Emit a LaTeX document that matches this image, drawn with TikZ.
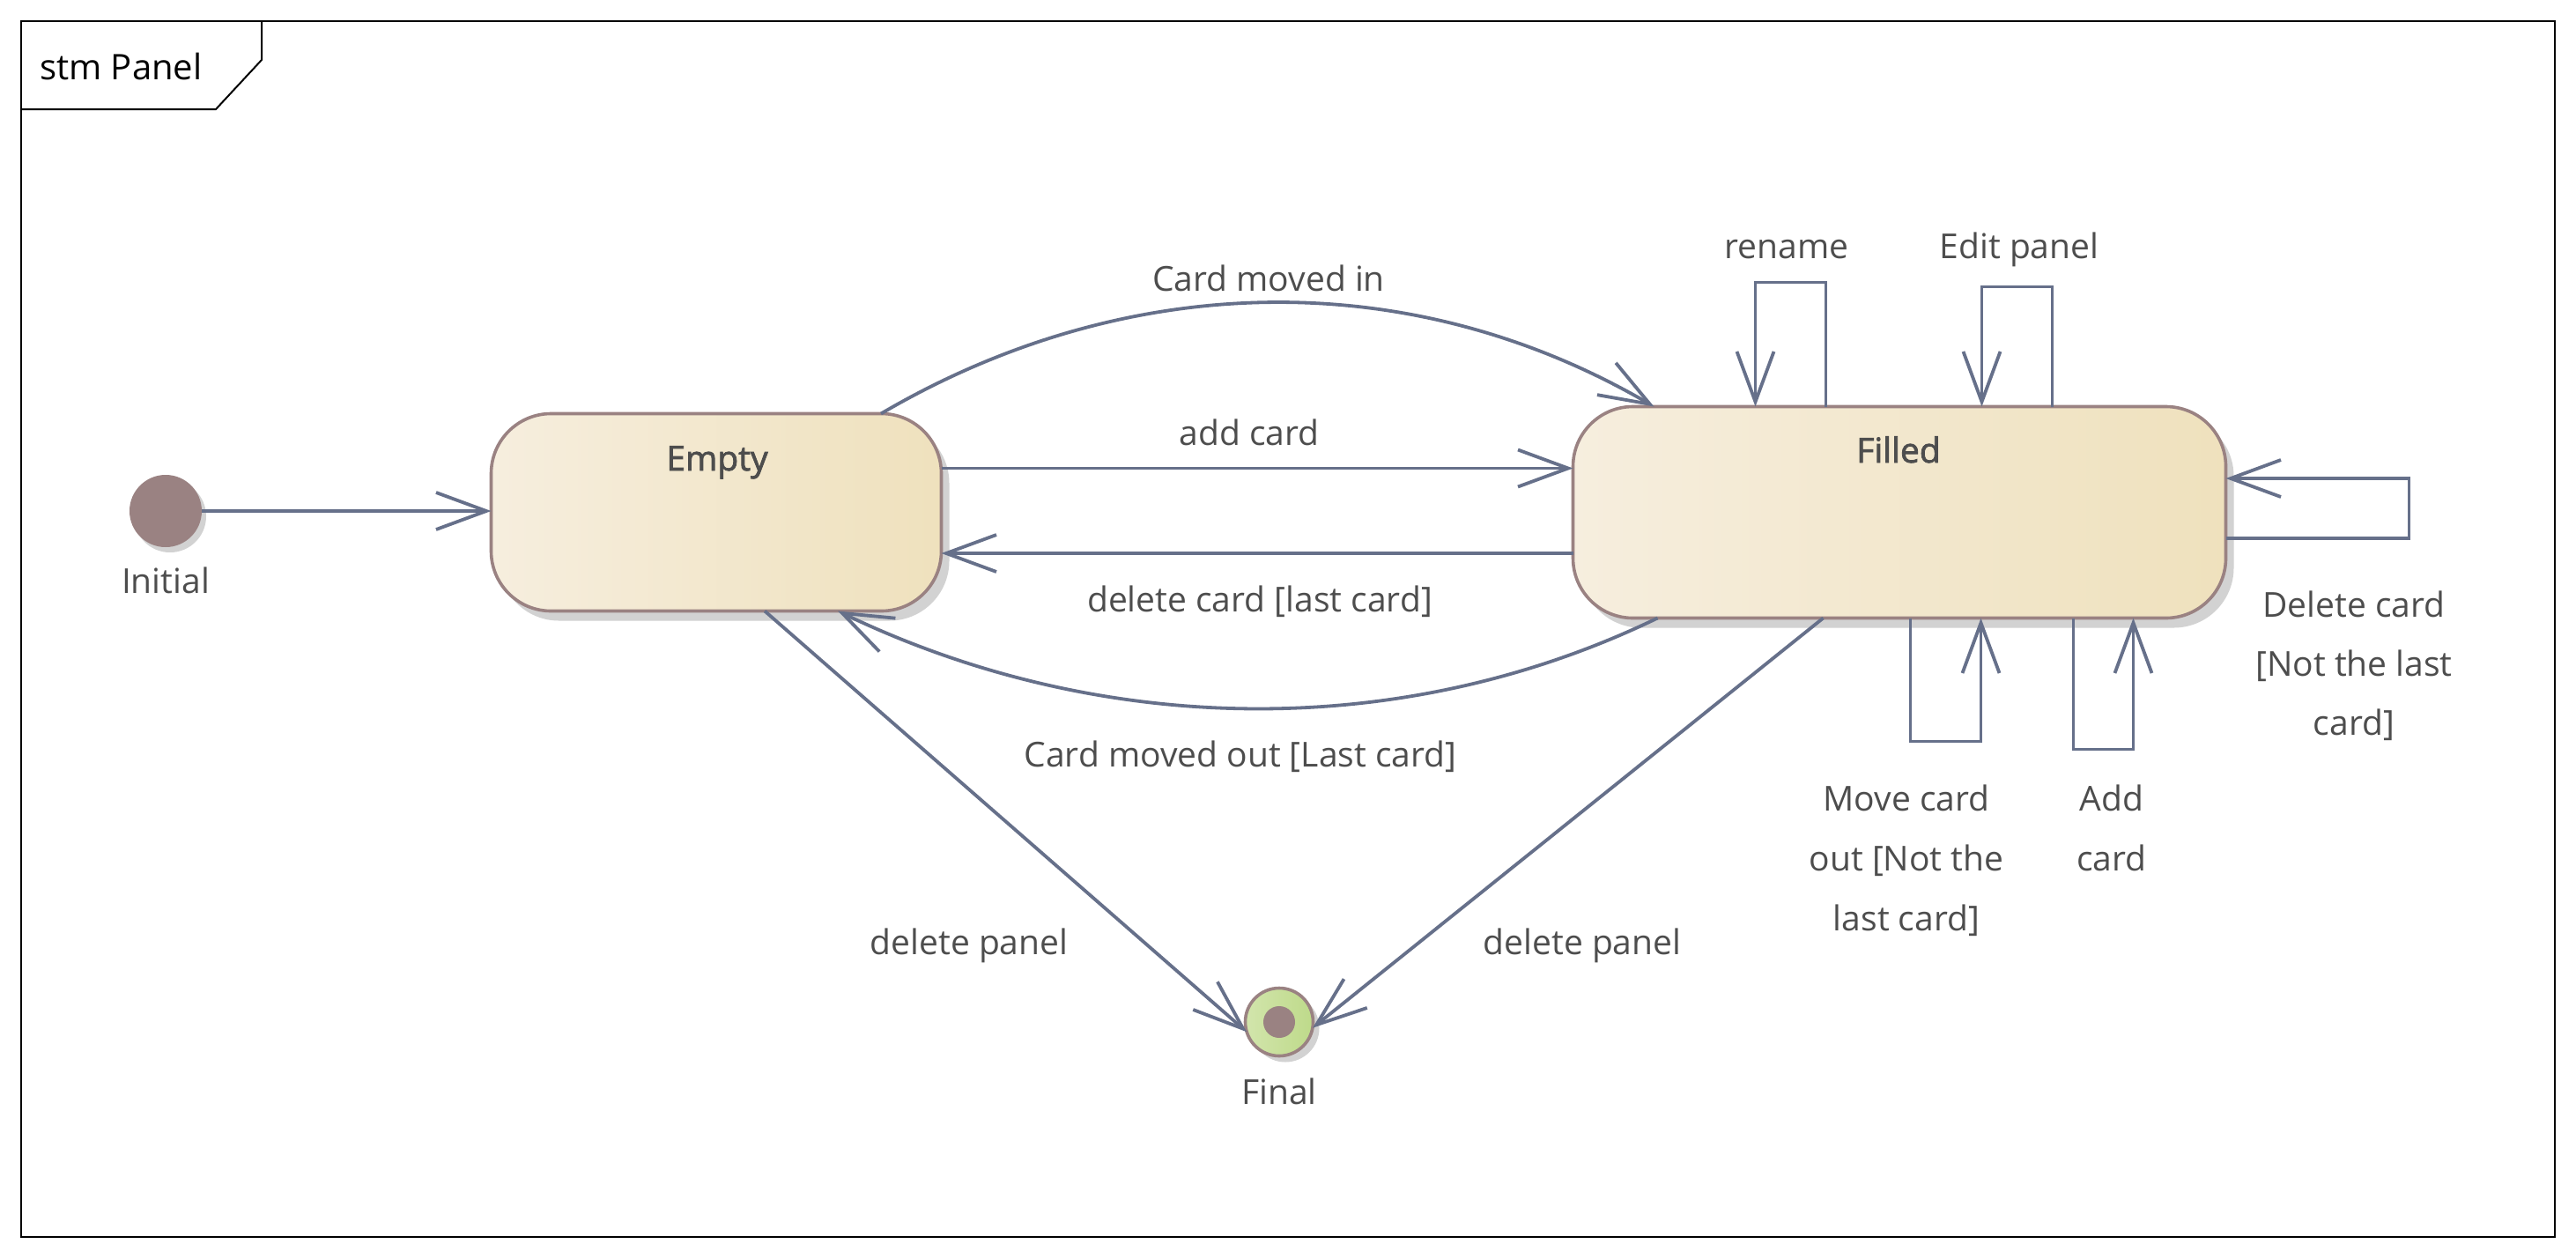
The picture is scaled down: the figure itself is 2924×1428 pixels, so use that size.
\documentclass[tikz,border=0pt]{standalone}
\usepackage{fontspec}
\setmainfont{Open Sans}
\newfontfamily\semibfont{Open Sans}[FakeBold=2]
\usetikzlibrary{arrows.meta,calc,shadows}
\definecolor{edgec}{RGB}{102,112,138}
\definecolor{bordc}{RGB}{154,130,130}
\definecolor{fillL}{RGB}{246,238,222}
\definecolor{fillR}{RGB}{239,225,189}
\definecolor{shad}{RGB}{210,210,210}
\definecolor{txt}{RGB}{77,77,77}
\definecolor{grL}{RGB}{210,229,172}
\definecolor{grR}{RGB}{190,218,138}
\begin{document}
\begin{tikzpicture}[x=1pt,y=-1pt,
  statebox/.style={rectangle, draw=bordc, line width=3.6pt, left color=fillL, right color=fillR,
    rounded corners=68pt, inner sep=0pt, outer sep=0pt,
    drop shadow={shadow xshift=9pt, shadow yshift=-11pt, fill=shad, opacity=1}},
  lbl/.style={font=\fontsize{39}{47}\selectfont, text=txt, inner sep=0pt, anchor=base},
  edge/.style={draw=edgec, line width=3.8pt, -{Straight Barb[length=57pt,width=42pt]}}
]
\useasboundingbox[fill=white] (0,0) rectangle (2924,1428);
% frame
\draw[line width=2.4pt] (24,24) rectangle (2900,1404);
\draw[line width=2pt] (24,124) -- (245,124) -- (297,68) -- (297,24);
\node[font=\fontsize{40}{48}\selectfont, inner sep=0pt, anchor=base west] (title) at (45,90) {stm Panel};

% states
\node[statebox, minimum width=511pt, minimum height=224pt] (Empty) at (813,581.5) {};
\node[statebox, minimum width=741pt, minimum height=240pt] (Filled) at (2156,581.5) {};
\node[lbl, font=\fontsize{39}{47}\semibfont] (EmptyL) at (814,534) {Empty};
\node[lbl, font=\fontsize{39}{47}\semibfont] (FilledL) at (2155,525) {Filled};

% initial / final
\node[circle, fill=bordc, minimum size=82pt, inner sep=0pt, outer sep=0pt,
  drop shadow={shadow xshift=5pt, shadow yshift=-6pt, fill=shad, opacity=1}] (Init) at (188,580) {};
\node[lbl] (InitL) at (188,673) {Initial};
\node[circle, draw=bordc, line width=3.6pt, left color=grL, right color=grR, minimum size=77pt,
  inner sep=0pt, outer sep=0pt,
  drop shadow={shadow xshift=7pt, shadow yshift=-7pt, fill=shad, opacity=1}] (Final) at (1452,1160) {};
\node[circle, fill=bordc, minimum size=36pt, inner sep=0pt] (FinalDot) at (Final) {};
\node[lbl] (FinalL) at (1452,1253) {Final};

% transitions
\draw[edge] (Init.east) -- (Init -| Empty.west);

\draw[edge] ($(Empty.north)+(187,0)$) .. controls (1277,307) and (1599,299) .. ($(Filled.north west)+(92,0)$);
\node[lbl] (lCardIn) at (1440,330) {Card moved in};

\draw[edge] ($(Empty.east)+(0,-50)$) -- ($(Filled.west)+(0,-50)$);
\node[lbl] (lAdd) at (1418,505) {add card};

\draw[edge] ($(Filled.west)+(0,46.5)$) -- ($(Empty.east)+(0,46.5)$);
\node[lbl] (lDel) at (1430,694) {delete card [last card]};

\draw[edge] ($(Filled.south west)+(96,0)$) .. controls (1587,844) and (1245,835) .. ($(Empty.south)+(138,0)$);
\node[lbl] (lCardOut) at (1408,870) {Card moved out [Last card]};

\draw[edge] ($(Empty.south)+(55,0)$) -- (Final.197);
\node[lbl] (lDelP1) at (1100,1083) {delete panel};
\draw[edge] ($(Filled.south west)+(284,0)$) -- (Final.-10);
\node[lbl] (lDelP2) at (1796,1083) {delete panel};

% self loops
\draw[edge] ($(Filled.north west)+(287,0)$) -- ++(0,-141) -| ($(Filled.north west)+(207,0)$);
\node[lbl] (lRename) at (2028,293) {rename};
\draw[edge] ($(Filled.north west)+(544,0)$) -- ++(0,-136) -| ($(Filled.north west)+(464,0)$);
\node[lbl] (lEdit) at (2292,293) {Edit panel};

\draw[edge] ($(Filled.south west)+(383,0)$) -- ++(0,140) -| ($(Filled.south west)+(463,0)$);
\node[lbl] (lMove1) at (2164,920) {Move card};
\node[lbl] (lMove2) at (2164,988) {out [Not the};
\node[lbl] (lMove3) at (2164,1056) {last card]};

\draw[edge] ($(Filled.south west)+(568,0)$) -- ++(0,149) -| ($(Filled.south west)+(636,0)$);
\node[lbl] (lAddc1) at (2397,920) {Add};
\node[lbl] (lAddc2) at (2397,988) {card};

\draw[edge] ($(Filled.east)+(0,29.5)$) -- ++(208,0) |- ($(Filled.east)+(0,-38.5)$);
\node[lbl] (lDc1) at (2672,700) {Delete card};
\node[lbl] (lDc2) at (2672,767) {[Not the last};
\node[lbl] (lDc3) at (2672,834) {card]};
\end{tikzpicture}
\end{document}
